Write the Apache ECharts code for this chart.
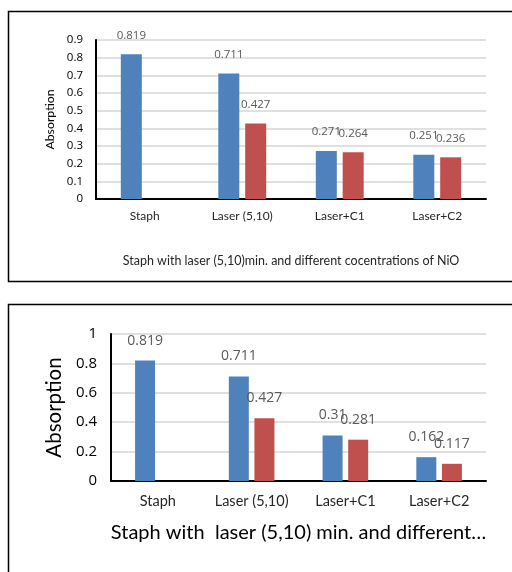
<!DOCTYPE html>
<html>
<head>
<meta charset="utf-8">
<script src="https://cdn.jsdelivr.net/npm/echarts@6/dist/echarts.min.js"></script>
<style>
  html, body { margin: 0; padding: 0; background: #fff; }
  #chart { width: 512px; height: 572px; }
</style>
</head>
<body>
<div id="chart"></div>
<script>
// categories shared by both charts
const categories = ['Staph', 'Laser (5,10)', 'Laser+C1', 'Laser+C2']

// top chart
const topBlue = [0.819, 0.711, 0.271, 0.251]
const topRed = [null, 0.427, 0.264, 0.236]
const topTitle = 'Staph with laser (5,10)min. and different cocentrations of NiO'

// bottom chart
const bottomBlue = [0.819, 0.711, 0.31, 0.162]
const bottomRed = [null, 0.427, 0.281, 0.117]
const bottomTitle = 'Staph with  laser (5,10) min. and different…'

const blue = '#4f81bd'
const red = '#c0504d'
const textFont = 'Lato, "Open Sans", sans-serif'
const numFont = '"Open Sans", "Noto Sans", sans-serif'

const myEcharts = echarts.init(document.getElementById('chart'))

const makeBar = (data, color, idx, width, size, dist) => ({
  type: 'bar',
  xAxisIndex: idx,
  yAxisIndex: idx,
  barWidth: width,
  barGap: '28%',
  data: data,
  itemStyle: { color: color },
  label: {
    show: true,
    position: 'top',
    distance: dist,
    color: '#595959',
    fontFamily: numFont,
    fontSize: size
  }
})

myEcharts.setOption({
  animation: false,
  graphic: [
    {
      type: 'rect',
      shape: { x: 8.5, y: 11.5, width: 520, height: 270 },
      style: { fill: 'none', stroke: '#000', lineWidth: 1.5 }
    },
    {
      type: 'rect',
      shape: { x: 8.5, y: 304.5, width: 520, height: 300 },
      style: { fill: 'none', stroke: '#000', lineWidth: 1.5 }
    }
  ],
  grid: [
    { left: 96, right: 26, top: 40, bottom: 373 },
    { left: 111, right: 26, top: 334, bottom: 91 }
  ],
  xAxis: [
    {
      type: 'category',
      gridIndex: 0,
      data: categories,
      axisTick: { show: false },
      axisLine: { lineStyle: { color: '#000', width: 2 } },
      axisLabel: { interval: 0, color: '#262626', fontFamily: textFont, fontSize: 12, margin: 11 },
      name: topTitle,
      nameLocation: 'middle',
      nameGap: 55,
      nameTextStyle: { color: '#262626', fontFamily: textFont, fontSize: 12.5 }
    },
    {
      type: 'category',
      gridIndex: 1,
      data: categories,
      axisTick: { show: false },
      axisLine: { lineStyle: { color: '#000', width: 2 } },
      axisLabel: { interval: 0, color: '#262626', fontFamily: textFont, fontSize: 14.5, margin: 13 },
      name: bottomTitle,
      nameLocation: 'middle',
      nameGap: 42,
      nameTextStyle: { color: '#000', fontFamily: textFont, fontSize: 20 }
    }
  ],
  yAxis: [
    {
      type: 'value',
      gridIndex: 0,
      min: 0,
      max: 0.9,
      interval: 0.1,
      axisLine: { show: true, lineStyle: { color: '#000', width: 2 } },
      axisLabel: { color: '#000', fontFamily: numFont, fontSize: 11.5, margin: 13 },
      splitLine: { lineStyle: { color: '#e0e0e0', width: 2 } },
      name: 'Absorption',
      nameLocation: 'middle',
      nameGap: 38,
      nameTextStyle: { color: '#000', fontFamily: textFont, fontSize: 12.3 }
    },
    {
      type: 'value',
      gridIndex: 1,
      min: 0,
      max: 1,
      interval: 0.2,
      axisLine: { show: true, lineStyle: { color: '#000', width: 2 } },
      axisLabel: { color: '#000', fontFamily: numFont, fontSize: 15, margin: 14 },
      splitLine: { lineStyle: { color: '#e0e0e0', width: 2 } },
      name: 'Absorption',
      nameLocation: 'middle',
      nameGap: 45,
      nameTextStyle: { color: '#000', fontFamily: textFont, fontSize: 20.5 }
    }
  ],
  series: [
    makeBar(topBlue, blue, 0, 21, 11.5, 13),
    makeBar(topRed, red, 0, 21, 11.5, 13),
    makeBar(bottomBlue, blue, 1, 20, 14, 13),
    makeBar(bottomRed, red, 1, 20, 14, 13)
  ]
})
</script>
</body>
</html>
